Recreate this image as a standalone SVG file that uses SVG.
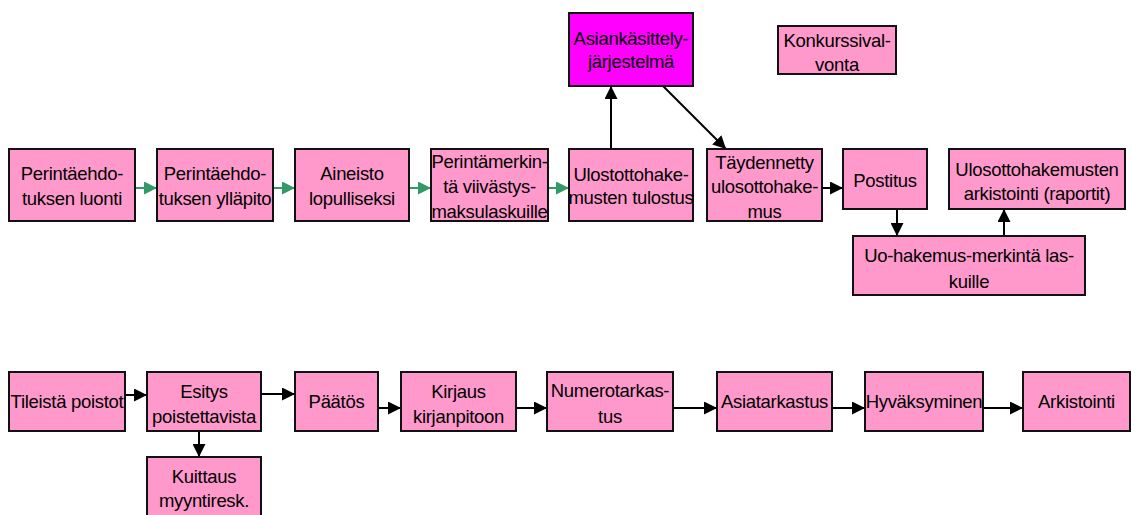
<svg xmlns="http://www.w3.org/2000/svg" width="1131" height="515" viewBox="0 0 1131 515">
<style>
.b{fill:#FF99CC;stroke:#111;stroke-width:2}
.m{fill:#FF00FF;stroke:#111;stroke-width:2}
.t{font-family:"Liberation Sans",Arial,sans-serif;font-size:18.5px;letter-spacing:-0.3px;text-anchor:middle;fill:#000}
.k{stroke:#000;stroke-width:2;fill:none;marker-end:url(#ak)}
.g{stroke:#339966;stroke-width:2;fill:none;marker-end:url(#ag)}
</style>
<defs>
<marker id="ak" markerUnits="userSpaceOnUse" markerWidth="13" markerHeight="13" refX="13" refY="6.5" orient="auto"><path d="M0,0L13,6.5L0,13z" fill="#000"/></marker>
<marker id="ag" markerUnits="userSpaceOnUse" markerWidth="13" markerHeight="13" refX="13" refY="6.5" orient="auto"><path d="M0,0L13,6.5L0,13z" fill="#339966"/></marker>
</defs>
<rect width="1131" height="515" fill="#fff"/>
<g id="connectors">
<path class="g" d="M135,188H157"/>
<path class="g" d="M273,188H295"/>
<path class="g" d="M409,188H431"/>
<path class="g" d="M548,188H569"/>
<path class="k" d="M611,149V86"/>
<path class="k" d="M663,86L726,149"/>
<path class="k" d="M822,188H843"/>
<path class="k" d="M897,209V236"/>
<path class="k" d="M1004,236V209"/>
<path class="k" d="M125,395H147"/>
<path class="k" d="M261,394H295"/>
<path class="k" d="M378,408H401"/>
<path class="k" d="M516,408H547"/>
<path class="k" d="M673,408H717"/>
<path class="k" d="M832,408H865"/>
<path class="k" d="M983,408H1023"/>
<path class="k" d="M199,431V457"/>
</g>
<g id="n1"><rect class="b" x="9" y="149" width="126" height="72"/><text class="t" x="72" y="180">Perintäehdo-</text><text class="t" x="72" y="205">tuksen luonti</text></g>
<g id="n2"><rect class="b" x="157" y="149" width="116" height="72"/><text class="t" x="215" y="180">Perintäehdo-</text><text class="t" x="215" y="205">tuksen ylläpito</text></g>
<g id="n3"><rect class="b" x="295" y="149" width="114" height="72"/><text class="t" x="352" y="180">Aineisto</text><text class="t" x="352" y="205">lopulliseksi</text></g>
<g id="n4"><rect class="b" x="431" y="149" width="117" height="72"/><text class="t" x="489.5" y="168">Perintämerkin-</text><text class="t" x="489.5" y="193">tä viivästys-</text><text class="t" x="489.5" y="218">maksulaskuille</text></g>
<g id="n5"><rect class="b" x="569" y="149" width="124" height="72"/><text class="t" x="631" y="181">Ulostottohake-</text><text class="t" x="631" y="204">musten tulostus</text></g>
<g id="n6"><rect class="b" x="707" y="149" width="115" height="72"/><text class="t" x="764.5" y="169">Täydennetty</text><text class="t" x="764.5" y="193">ulosottohake-</text><text class="t" x="764.5" y="218">mus</text></g>
<g id="asian"><rect class="m" x="569" y="13" width="124" height="73"/><text class="t" x="631" y="45">Asiankäsittely-</text><text class="t" x="631" y="68">järjestelmä</text></g>
<g id="konkurssi"><rect class="b" x="778" y="26" width="118" height="48"/><text class="t" x="837" y="47">Konkurssival-</text><text class="t" x="837" y="71">vonta</text></g>
<g id="postitus"><rect class="b" x="843" y="149" width="84" height="60"/><text class="t" x="885" y="187">Postitus</text></g>
<g id="arkraportit"><rect class="b" x="949" y="149" width="176" height="60"/><text class="t" x="1037" y="176">Ulosottohakemusten</text><text class="t" x="1037" y="200">arkistointi (raportit)</text></g>
<g id="uo"><rect class="b" x="853" y="236" width="232" height="59"/><text class="t" x="969" y="262">Uo-hakemus-merkintä las-</text><text class="t" x="969" y="288">kuille</text></g>
<g id="tileista"><rect class="b" x="9" y="372" width="116" height="59"/><text class="t" x="67" y="408">Tileistä poistot</text></g>
<g id="esitys"><rect class="b" x="147" y="372" width="114" height="59"/><text class="t" x="204" y="398">Esitys</text><text class="t" x="204" y="423">poistettavista</text></g>
<g id="kuittaus"><rect class="b" x="147" y="457" width="114" height="70"/><text class="t" x="204" y="483">Kuittaus</text><text class="t" x="204" y="507">myyntiresk.</text></g>
<g id="paatos"><rect class="b" x="295" y="372" width="83" height="59"/><text class="t" x="336.5" y="408">Päätös</text></g>
<g id="kirjaus"><rect class="b" x="401" y="372" width="115" height="59"/><text class="t" x="458.5" y="398">Kirjaus</text><text class="t" x="458.5" y="423">kirjanpitoon</text></g>
<g id="numero"><rect class="b" x="547" y="372" width="126" height="59"/><text class="t" x="610" y="397">Numerotarkas-</text><text class="t" x="610" y="423">tus</text></g>
<g id="asiatark"><rect class="b" x="717" y="372" width="115" height="59"/><text class="t" x="774.5" y="408">Asiatarkastus</text></g>
<g id="hyvaks"><rect class="b" x="865" y="372" width="118" height="59"/><text class="t" x="924" y="408">Hyväksyminen</text></g>
<g id="arkistointi"><rect class="b" x="1023" y="372" width="107" height="59"/><text class="t" x="1076.5" y="408">Arkistointi</text></g>
</svg>
